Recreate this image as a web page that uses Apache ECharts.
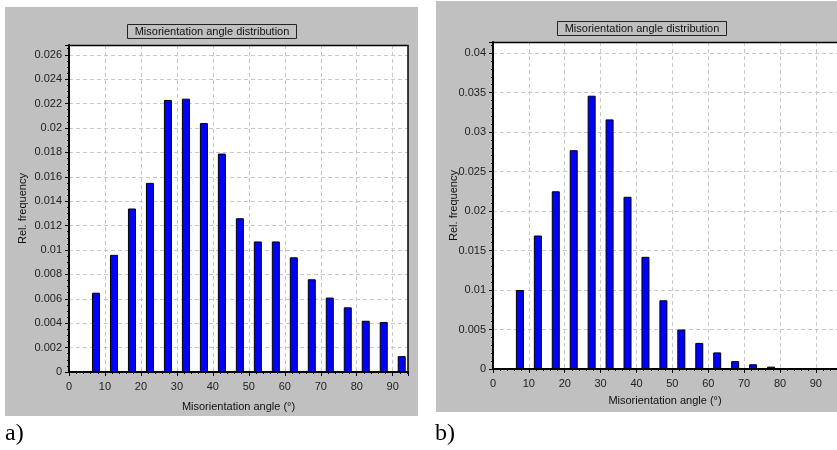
<!DOCTYPE html>
<html><head><meta charset="utf-8">
<script src="https://cdn.jsdelivr.net/npm/echarts@6/dist/echarts.min.js"></script>
<style>html,body{margin:0;padding:0;background:#fff}#c{width:837px;height:450px}</style>
</head><body><div id="c"></div>
<script>
const angles = [2.5, 7.5, 12.5, 17.5, 22.5, 27.5, 32.5, 37.5, 42.5, 47.5, 52.5, 57.5, 62.5, 67.5, 72.5, 77.5, 82.5, 87.5, 92.5];
const freqA = [0, 0.0065, 0.0096, 0.0134, 0.0155, 0.0223, 0.0224, 0.0204, 0.0179, 0.0126, 0.0107, 0.0107, 0.0094, 0.0076, 0.0061, 0.0053, 0.0042, 0.0041, 0.0013];
const freqB = [0, 0.0100, 0.0169, 0.0225, 0.0277, 0.0346, 0.0316, 0.0218, 0.0142, 0.0087, 0.0050, 0.0033, 0.0021, 0.0010, 0.0006, 0.0003, 0.0001, 0.00005, 0];
const chartTitle = 'Misorientation angle distribution';
const xName = 'Misorientation angle (°)';
const yName = 'Rel. frequency';
const panelLabels = ['a)', 'b)'];

const FONT = '"Liberation Sans", Arial, sans-serif';
const gray = '#c0c0c0';
const fmt = v => String(+v.toFixed(5));

function xAxis(gi, max, gap) {
  return {
    type: 'value', gridIndex: gi, min: 0, max: max, interval: 10,
    name: xName, nameLocation: 'middle', nameGap: gap, nameMoveOverlap: false,
    nameTextStyle: {fontFamily: FONT, fontSize: 11, color: '#111'},
    axisLine: {show: true, lineStyle: {color: '#000', width: 2}},
    axisTick: {show: true, length: 4, lineStyle: {color: '#000'}},
    minorTick: {show: true, splitNumber: 5, length: 2, lineStyle: {color: '#000'}},
    axisLabel: {fontFamily: FONT, fontSize: 11, color: '#222', margin: 9, showMaxLabel: false, formatter: fmt},
    splitLine: {show: true, showMinLine: false, showMaxLine: false, lineStyle: {color: '#c8c8c8', type: [4, 3], width: 1}}
  };
}
function yAxis(gi, max, interval, minorSplit, gap) {
  return {
    type: 'value', gridIndex: gi, min: 0, max: max, interval: interval,
    name: yName, nameLocation: 'middle', nameGap: gap, nameRotate: 90, nameMoveOverlap: false,
    nameTextStyle: {fontFamily: FONT, fontSize: 11, color: '#111'},
    axisLine: {show: true, lineStyle: {color: '#000', width: 2}},
    axisTick: {show: true, length: 4, lineStyle: {color: '#000'}},
    minorTick: {show: true, splitNumber: minorSplit, length: 2, lineStyle: {color: '#000'}},
    axisLabel: {fontFamily: FONT, fontSize: 11, color: '#222', margin: 7, showMaxLabel: false, formatter: fmt},
    splitLine: {show: true, showMinLine: false, showMaxLine: false, lineStyle: {color: '#c8c8c8', type: [4, 3], width: 1}}
  };
}
const barStyle = {color: '#0000ff', borderColor: '#000', borderWidth: 1};

const chart = echarts.init(document.getElementById('c'), null, {renderer: 'canvas'});
chart.setOption({
  animation: false,
  backgroundColor: '#fff',
  graphic: [
    {type: 'rect', z: -100, shape: {x: 5, y: 7, width: 413, height: 409}, style: {fill: gray}},
    {type: 'rect', z: -100, shape: {x: 436, y: 1, width: 401, height: 411}, style: {fill: gray}},
    {type: 'rect', z: 100, shape: {x: 69, y: 45.5, width: 339, height: 326.5}, style: {fill: null, stroke: '#000', lineWidth: 1.5}},
    {type: 'rect', z: 100, shape: {x: 493, y: 42.5, width: 350, height: 326.5}, style: {fill: null, stroke: '#000', lineWidth: 1.5}},
    {type: 'rect', z: 10, shape: {x: 127.5, y: 24.5, width: 169, height: 14}, style: {fill: gray, stroke: '#222', lineWidth: 1}},
    {type: 'text', z: 11, x: 212, y: 31.5, style: {text: chartTitle, align: 'center', verticalAlign: 'middle', font: '11px ' + FONT, fill: '#111'}},
    {type: 'rect', z: 10, shape: {x: 557.5, y: 21.5, width: 169, height: 14}, style: {fill: gray, stroke: '#222', lineWidth: 1}},
    {type: 'text', z: 11, x: 642, y: 28.5, style: {text: chartTitle, align: 'center', verticalAlign: 'middle', font: '11px ' + FONT, fill: '#111'}},
    {type: 'text', z: 11, x: 5, y: 422, style: {text: panelLabels[0], font: '24px "Liberation Serif", "Times New Roman", serif', fill: '#000'}},
    {type: 'text', z: 11, x: 435, y: 422, style: {text: panelLabels[1], font: '24px "Liberation Serif", "Times New Roman", serif', fill: '#000'}}
  ],
  grid: [
    {left: 69, top: 45, width: 339, height: 327, show: true, backgroundColor: '#fff', borderWidth: 0},
    {left: 493, top: 42, width: 350, height: 327, show: true, backgroundColor: '#fff', borderWidth: 0}
  ],
  xAxis: [xAxis(0, 94.25, 29), xAxis(1, 350 / 3.65, 26)],
  yAxis: [yAxis(0, 0.0268, 0.002, 4, 41), yAxis(1, 0.0414, 0.005, 5, 34)],
  series: [
    {type: 'bar', xAxisIndex: 0, yAxisIndex: 0, barWidth: 8, itemStyle: barStyle,
     data: angles.map((a, i) => [a, freqA[i]])},
    {type: 'bar', xAxisIndex: 1, yAxisIndex: 1, barWidth: 8, itemStyle: barStyle,
     data: angles.map((a, i) => [a, freqB[i]])}
  ]
});
</script></body></html>
